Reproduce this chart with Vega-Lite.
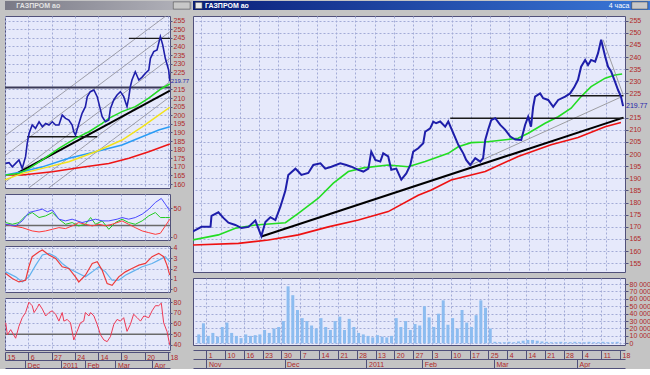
{
"$schema":"https://vega.github.io/schema/vega-lite/v6.json",
"background":"#c4c4c4",
"padding":{"left":3,"top":1,"right":0,"bottom":0},
"spacing":0,
"datasets":{
"rprice":[{"t":-0.47,"v":168},{"t":0,"v":170},{"t":0.47,"v":170},{"t":0.52,"v":174.5},{"t":0.88,"v":176},{"t":1.14,"v":173.7},{"t":1.4,"v":171.7},{"t":1.76,"v":170.8},{"t":2.08,"v":169.5},{"t":2.44,"v":170},{"t":2.8,"v":172.6},{"t":3.11,"v":166.2},{"t":3.32,"v":172},{"t":3.58,"v":174},{"t":3.84,"v":172.8},{"t":4.1,"v":178.3},{"t":4.36,"v":185},{"t":4.51,"v":191.4},{"t":4.88,"v":194},{"t":5.03,"v":192.8},{"t":5.19,"v":191.4},{"t":5.55,"v":192.2},{"t":5.81,"v":195.5},{"t":6.18,"v":196.2},{"t":6.43,"v":194},{"t":6.75,"v":194.8},{"t":7.21,"v":196.2},{"t":7.52,"v":195.5},{"t":7.78,"v":194.8},{"t":8.15,"v":193.5},{"t":8.41,"v":192.8},{"t":8.67,"v":194},{"t":8.82,"v":201},{"t":9.03,"v":197.6},{"t":9.29,"v":196.9},{"t":9.44,"v":200.3},{"t":9.7,"v":199},{"t":9.86,"v":193.5},{"t":10.12,"v":194},{"t":10.38,"v":189.5},{"t":10.64,"v":192},{"t":10.85,"v":195.5},{"t":11.0,"v":201},{"t":11.26,"v":202.4},{"t":11.52,"v":204.5},{"t":11.62,"v":209.2},{"t":11.88,"v":210.6},{"t":12.04,"v":213.4},{"t":12.19,"v":212.7},{"t":12.4,"v":213.4},{"t":12.66,"v":211.3},{"t":12.82,"v":213.4},{"t":13.08,"v":208.6},{"t":13.34,"v":203.8},{"t":13.6,"v":200.3},{"t":13.75,"v":197.6},{"t":13.96,"v":195.5},{"t":14.22,"v":198.3},{"t":14.48,"v":196.9},{"t":14.63,"v":198.3},{"t":14.74,"v":205.8},{"t":14.89,"v":210},{"t":15.05,"v":214},{"t":15.26,"v":214.8},{"t":15.52,"v":212},{"t":15.78,"v":210},{"t":16.04,"v":207.2},{"t":16.3,"v":206},{"t":16.61,"v":205.8},{"t":16.81,"v":212},{"t":16.97,"v":215.4},{"t":17.12,"v":211.3},{"t":17.23,"v":219.5},{"t":17.33,"v":223.7},{"t":17.59,"v":225},{"t":17.75,"v":223},{"t":18.01,"v":222.3},{"t":18.27,"v":219.5},{"t":18.53,"v":222.3},{"t":18.89,"v":223.7},{"t":19.15,"v":225},{"t":19.36,"v":227.5},{"t":19.56,"v":230.6},{"t":19.72,"v":236},{"t":19.93,"v":238.8},{"t":20.08,"v":236.7},{"t":20.24,"v":238.8},{"t":20.45,"v":238.1},{"t":20.6,"v":241.6},{"t":20.76,"v":247.1},{"t":20.97,"v":240.2},{"t":21.12,"v":236},{"t":21.28,"v":234},{"t":21.48,"v":229.9},{"t":21.64,"v":226.4},{"t":21.79,"v":223.7},{"t":21.9,"v":219.77}],
"rgreen":[{"t":-0.47,"v":164.6},{"t":0.88,"v":166.7},{"t":1.76,"v":169.4},{"t":2.8,"v":170.8},{"t":4.36,"v":171.7},{"t":5.03,"v":175.6},{"t":6.07,"v":181.8},{"t":6.85,"v":188},{"t":7.63,"v":192.8},{"t":8.41,"v":194.3},{"t":9.7,"v":195.5},{"t":10.74,"v":194.8},{"t":11.62,"v":196.9},{"t":12.82,"v":200.3},{"t":13.34,"v":203},{"t":14.01,"v":204.7},{"t":14.74,"v":205},{"t":16.45,"v":206.5},{"t":16.97,"v":208.6},{"t":17.85,"v":212.7},{"t":18.53,"v":215.4},{"t":19.2,"v":218.9},{"t":19.72,"v":223.7},{"t":20.24,"v":227.8},{"t":20.97,"v":231.3},{"t":21.48,"v":232.6},{"t":21.85,"v":233}],
"rred":[{"t":-0.47,"v":162.5},{"t":1.92,"v":163.2},{"t":3.48,"v":164.6},{"t":5.03,"v":166.7},{"t":6.59,"v":170},{"t":8.15,"v":172.8},{"t":9.7,"v":176.3},{"t":11.26,"v":183},{"t":11.94,"v":185.2},{"t":12.97,"v":189.3},{"t":14.74,"v":192.8},{"t":16.45,"v":199},{"t":18.16,"v":203.8},{"t":19.56,"v":206.8},{"t":20.97,"v":211.3},{"t":21.79,"v":213}],
"rseg":[{"t1":3.11,"v1":166,"t2":21.92,"v2":215,"k":"trend"},{"t1":12.92,"v1":214.8,"t2":21.92,"v2":214.8,"k":"level"},{"t1":19.15,"v1":224,"t2":21.92,"v2":224,"k":"level"},{"t1":14.0,"v1":195.5,"t2":21.85,"v2":223.7,"k":"guide"},{"t1":20.86,"v1":247.1,"t2":21.9,"v2":224.5,"k":"guide"}],
"rvol":[{"t":-0.4,"m":12},{"t":-0.15,"m":27},{"t":0.1,"m":10},{"t":0.35,"m":14},{"t":0.6,"m":9},{"t":0.85,"m":22},{"t":1.1,"m":28},{"t":1.35,"m":14},{"t":1.6,"m":10},{"t":1.85,"m":7},{"t":2.1,"m":12},{"t":2.35,"m":10},{"t":2.6,"m":11},{"t":2.85,"m":12},{"t":3.1,"m":18},{"t":3.35,"m":14},{"t":3.6,"m":20},{"t":3.85,"m":22},{"t":4.1,"m":30},{"t":4.35,"m":77},{"t":4.6,"m":65},{"t":4.85,"m":45},{"t":5.1,"m":34},{"t":5.35,"m":30},{"t":5.6,"m":24},{"t":5.85,"m":20},{"t":6.1,"m":34},{"t":6.35,"m":22},{"t":6.6,"m":18},{"t":6.85,"m":30},{"t":7.1,"m":36},{"t":7.35,"m":18},{"t":7.6,"m":33},{"t":7.85,"m":22},{"t":8.1,"m":14},{"t":8.35,"m":12},{"t":8.6,"m":10},{"t":8.85,"m":8},{"t":9.1,"m":11},{"t":9.35,"m":9},{"t":9.6,"m":8},{"t":9.85,"m":10},{"t":10.1,"m":34},{"t":10.35,"m":22},{"t":10.6,"m":30},{"t":10.85,"m":18},{"t":11.1,"m":26},{"t":11.35,"m":24},{"t":11.6,"m":50},{"t":11.85,"m":35},{"t":12.1,"m":22},{"t":12.35,"m":40},{"t":12.6,"m":58},{"t":12.85,"m":25},{"t":13.1,"m":34},{"t":13.35,"m":20},{"t":13.6,"m":45},{"t":13.85,"m":28},{"t":14.1,"m":22},{"t":14.35,"m":38},{"t":14.6,"m":58},{"t":14.85,"m":48},{"t":15.1,"m":20},{"t":15.35,"m":2},{"t":15.6,"m":1.5},{"t":15.85,"m":1.5},{"t":16.1,"m":2},{"t":16.35,"m":1.5},{"t":16.6,"m":2.5},{"t":16.85,"m":3.5},{"t":17.1,"m":4.5},{"t":17.35,"m":4.5},{"t":17.6,"m":3.5},{"t":17.85,"m":2.5},{"t":18.1,"m":2},{"t":18.35,"m":1.5},{"t":18.6,"m":1.5},{"t":18.85,"m":2},{"t":19.1,"m":1.5},{"t":19.35,"m":1.5},{"t":19.6,"m":2},{"t":19.85,"m":1.5},{"t":20.1,"m":1.5},{"t":20.35,"m":2},{"t":20.6,"m":1.5},{"t":20.85,"m":1.5},{"t":21.1,"m":2},{"t":21.35,"m":1.5},{"t":21.6,"m":1.5},{"t":21.85,"m":2}],
"lprice":[{"u":-0.07,"v":172},{"u":0.07,"v":172.4},{"u":0.21,"v":170},{"u":0.35,"v":172},{"u":0.49,"v":174},{"u":0.63,"v":169.1},{"u":0.77,"v":175.9},{"u":0.84,"v":183.7},{"u":0.92,"v":189.5},{"u":1.05,"v":194.3},{"u":1.19,"v":192.4},{"u":1.34,"v":196.2},{"u":1.48,"v":193.3},{"u":1.62,"v":195.2},{"u":1.76,"v":194.3},{"u":1.9,"v":196.2},{"u":2.04,"v":194.3},{"u":2.18,"v":194.3},{"u":2.32,"v":200.1},{"u":2.46,"v":198.2},{"u":2.6,"v":197.2},{"u":2.74,"v":194.3},{"u":2.81,"v":190.4},{"u":2.88,"v":188.5},{"u":3.03,"v":195.3},{"u":3.16,"v":201.1},{"u":3.3,"v":205},{"u":3.38,"v":210.8},{"u":3.51,"v":213.7},{"u":3.66,"v":214.7},{"u":3.8,"v":210.8},{"u":3.94,"v":203},{"u":4.01,"v":199.2},{"u":4.15,"v":196.2},{"u":4.29,"v":197.2},{"u":4.36,"v":204},{"u":4.5,"v":208.9},{"u":4.64,"v":211.8},{"u":4.78,"v":213.7},{"u":4.92,"v":210.8},{"u":5.06,"v":205},{"u":5.14,"v":210.8},{"u":5.2,"v":216.6},{"u":5.27,"v":220.5},{"u":5.41,"v":225.3},{"u":5.56,"v":220.5},{"u":5.7,"v":222.2},{"u":5.84,"v":224.4},{"u":5.98,"v":226.3},{"u":6.05,"v":233.1},{"u":6.19,"v":237},{"u":6.33,"v":238},{"u":6.47,"v":245.7},{"u":6.57,"v":240.9},{"u":6.68,"v":233.1},{"u":6.82,"v":226.3},{"u":6.87,"v":219.77}],
"lma":[{"u":-0.1,"v":165.2,"s":"m200"},{"u":0.63,"v":165.2,"s":"m200"},{"u":1.9,"v":167.2,"s":"m200"},{"u":3.3,"v":170,"s":"m200"},{"u":4.29,"v":172,"s":"m200"},{"u":5.14,"v":175,"s":"m200"},{"u":5.98,"v":178.8,"s":"m200"},{"u":6.87,"v":183.3,"s":"m200"},
{"u":-0.1,"v":165.2,"s":"m100"},{"u":0.63,"v":167.2,"s":"m100"},{"u":1.48,"v":170,"s":"m100"},{"u":2.6,"v":175,"s":"m100"},{"u":3.73,"v":178.8,"s":"m100"},{"u":4.85,"v":182.7,"s":"m100"},{"u":5.7,"v":187.5,"s":"m100"},{"u":6.4,"v":191.4,"s":"m100"},{"u":6.87,"v":193.3,"s":"m100"},
{"u":-0.1,"v":162.5,"s":"m50"},{"u":0.63,"v":166.2,"s":"m50"},{"u":1.48,"v":169.1,"s":"m50"},{"u":2.6,"v":173,"s":"m50"},{"u":3.73,"v":178.8,"s":"m50"},{"u":4.85,"v":185.6,"s":"m50"},{"u":5.7,"v":193.3,"s":"m50"},{"u":6.4,"v":200.1,"s":"m50"},{"u":6.87,"v":204.6,"s":"m50"},
{"u":-0.07,"v":165.2,"s":"m20"},{"u":0.49,"v":166.2,"s":"m20"},{"u":0.92,"v":169.1,"s":"m20"},{"u":1.48,"v":174,"s":"m20"},{"u":2.18,"v":180.8,"s":"m20"},{"u":2.88,"v":186.6,"s":"m20"},{"u":3.45,"v":190.4,"s":"m20"},{"u":4.01,"v":195.3,"s":"m20"},{"u":4.29,"v":198.2,"s":"m20"},{"u":4.85,"v":202.1,"s":"m20"},{"u":5.41,"v":205,"s":"m20"},{"u":5.98,"v":209.9,"s":"m20"},{"u":6.54,"v":215.7,"s":"m20"},{"u":6.87,"v":218.2,"s":"m20"}],
"lseg":[{"u1":-0.1,"v1":188,"u2":6.878,"v2":259.5,"k":"chan"},{"u1":-0.1,"v1":176.5,"u2":6.878,"v2":248.6,"k":"chan"},{"u1":-0.1,"v1":161,"u2":6.878,"v2":233.1,"k":"chan"},{"u1":0.9,"v1":157.7,"u2":6.878,"v2":219.5,"k":"chan"},{"u1":1.745,"v1":157.7,"u2":6.878,"v2":210.8,"k":"chan"},{"u1":0.35,"v1":165.8,"u2":6.878,"v2":214.3,"k":"trend"},{"u1":5.14,"v1":244.7,"u2":6.878,"v2":244.7,"k":"level"},{"u1":0.84,"v1":187.5,"u2":3.8,"v2":187.5,"k":"level"}],
"lhline":[{"v":216.2}],
"li1":[{"u":-0.07,"v":22.3,"s":"b"},{"u":0.35,"v":19.4,"s":"b"},{"u":0.63,"v":28.2,"s":"b"},{"u":0.91,"v":42.9,"s":"b"},{"u":1.2,"v":45.9,"s":"b"},{"u":1.48,"v":48.8,"s":"b"},{"u":1.69,"v":44.1,"s":"b"},{"u":1.9,"v":47.6,"s":"b"},{"u":2.18,"v":31.2,"s":"b"},{"u":2.46,"v":28.2,"s":"b"},{"u":2.74,"v":31.2,"s":"b"},{"u":3.16,"v":25.3,"s":"b"},{"u":3.45,"v":28.2,"s":"b"},{"u":3.73,"v":31.2,"s":"b"},{"u":4.01,"v":28.2,"s":"b"},{"u":4.29,"v":28.2,"s":"b"},{"u":4.64,"v":31.2,"s":"b"},{"u":4.85,"v":34.1,"s":"b"},{"u":5.13,"v":31.2,"s":"b"},{"u":5.41,"v":34.1,"s":"b"},{"u":5.7,"v":40,"s":"b"},{"u":5.98,"v":48.8,"s":"b"},{"u":6.26,"v":60.6,"s":"b"},{"u":6.51,"v":67.6,"s":"b"},{"u":6.68,"v":57.6,"s":"b"},{"u":6.87,"v":45.9,"s":"b"},
{"u":-0.07,"v":22.3,"s":"r"},{"u":0.21,"v":19.4,"s":"r"},{"u":0.63,"v":16.4,"s":"r"},{"u":1.05,"v":10.6,"s":"r"},{"u":1.34,"v":8.8,"s":"r"},{"u":1.62,"v":10.6,"s":"r"},{"u":1.9,"v":13.5,"s":"r"},{"u":2.18,"v":16.4,"s":"r"},{"u":2.46,"v":14.7,"s":"r"},{"u":2.74,"v":19.4,"s":"r"},{"u":3.02,"v":25.3,"s":"r"},{"u":3.3,"v":22.3,"s":"r"},{"u":3.59,"v":19.4,"s":"r"},{"u":3.87,"v":22.3,"s":"r"},{"u":4.15,"v":19.4,"s":"r"},{"u":4.43,"v":22.3,"s":"r"},{"u":4.85,"v":28.2,"s":"r"},{"u":5.13,"v":22.3,"s":"r"},{"u":5.41,"v":16.4,"s":"r"},{"u":5.7,"v":10.6,"s":"r"},{"u":5.98,"v":7.6,"s":"r"},{"u":6.26,"v":4.7,"s":"r"},{"u":6.47,"v":6.5,"s":"r"},{"u":6.68,"v":19.4,"s":"r"},{"u":6.87,"v":31.2,"s":"r"},
{"u":-0.07,"v":25.3,"s":"g"},{"u":0.21,"v":22.3,"s":"g"},{"u":0.49,"v":25.3,"s":"g"},{"u":0.77,"v":37,"s":"g"},{"u":1.05,"v":42.9,"s":"g"},{"u":1.34,"v":34.1,"s":"g"},{"u":1.62,"v":37,"s":"g"},{"u":1.9,"v":42.9,"s":"g"},{"u":2.18,"v":31.2,"s":"g"},{"u":2.46,"v":22.3,"s":"g"},{"u":2.74,"v":25.3,"s":"g"},{"u":3.02,"v":19.4,"s":"g"},{"u":3.3,"v":22.3,"s":"g"},{"u":3.52,"v":34.1,"s":"g"},{"u":3.73,"v":22.3,"s":"g"},{"u":4.01,"v":28.2,"s":"g"},{"u":4.29,"v":13.5,"s":"g"},{"u":4.57,"v":25.3,"s":"g"},{"u":4.85,"v":31.2,"s":"g"},{"u":5.13,"v":25.3,"s":"g"},{"u":5.41,"v":22.3,"s":"g"},{"u":5.7,"v":28.2,"s":"g"},{"u":5.98,"v":37,"s":"g"},{"u":6.26,"v":42.9,"s":"g"},{"u":6.47,"v":34.1,"s":"g"},{"u":6.68,"v":34.1,"s":"g"},{"u":6.87,"v":34.1,"s":"g"}],
"li2":[{"u":-0.07,"v":1.52,"s":"r"},{"u":0.21,"v":1.04,"s":"r"},{"u":0.49,"v":0.71,"s":"r"},{"u":0.77,"v":0.87,"s":"r"},{"u":0.91,"v":2.17,"s":"r"},{"u":1.05,"v":3.14,"s":"r"},{"u":1.34,"v":3.62,"s":"r"},{"u":1.48,"v":3.79,"s":"r"},{"u":1.76,"v":3.3,"s":"r"},{"u":2.04,"v":2.98,"s":"r"},{"u":2.32,"v":2.17,"s":"r"},{"u":2.6,"v":2.01,"s":"r"},{"u":2.88,"v":1.2,"s":"r"},{"u":3.02,"v":0.71,"s":"r"},{"u":3.3,"v":1.36,"s":"r"},{"u":3.59,"v":2.49,"s":"r"},{"u":3.8,"v":2.65,"s":"r"},{"u":4.01,"v":1.84,"s":"r"},{"u":4.22,"v":0.55,"s":"r"},{"u":4.43,"v":0.39,"s":"r"},{"u":4.71,"v":1.2,"s":"r"},{"u":4.99,"v":1.68,"s":"r"},{"u":5.27,"v":2.01,"s":"r"},{"u":5.56,"v":2.33,"s":"r"},{"u":5.84,"v":2.49,"s":"r"},{"u":6.12,"v":3.14,"s":"r"},{"u":6.4,"v":3.46,"s":"r"},{"u":6.61,"v":3.14,"s":"r"},{"u":6.75,"v":2.33,"s":"r"},{"u":6.87,"v":1.36,"s":"r"},
{"u":-0.07,"v":1.68,"s":"b"},{"u":0.35,"v":1.2,"s":"b"},{"u":0.63,"v":0.71,"s":"b"},{"u":0.91,"v":1.2,"s":"b"},{"u":1.2,"v":2.33,"s":"b"},{"u":1.48,"v":3.3,"s":"b"},{"u":1.76,"v":3.46,"s":"b"},{"u":2.04,"v":3.14,"s":"b"},{"u":2.32,"v":2.49,"s":"b"},{"u":2.6,"v":2.01,"s":"b"},{"u":3.02,"v":1.52,"s":"b"},{"u":3.3,"v":1.2,"s":"b"},{"u":3.59,"v":1.68,"s":"b"},{"u":3.87,"v":2.17,"s":"b"},{"u":4.15,"v":1.68,"s":"b"},{"u":4.43,"v":0.87,"s":"b"},{"u":4.71,"v":0.87,"s":"b"},{"u":4.99,"v":1.36,"s":"b"},{"u":5.27,"v":1.68,"s":"b"},{"u":5.7,"v":2.17,"s":"b"},{"u":6.12,"v":2.49,"s":"b"},{"u":6.4,"v":2.81,"s":"b"},{"u":6.68,"v":3.14,"s":"b"},{"u":6.87,"v":2.65,"s":"b"}],
"li3":[{"u":-0.07,"v":60.6},{"u":0,"v":49.4},{"u":0.14,"v":54.2},{"u":0.35,"v":46.2},{"u":0.49,"v":57.4},{"u":0.63,"v":65.4},{"u":0.77,"v":70.2},{"u":0.91,"v":79.8},{"u":1.05,"v":76.6},{"u":1.13,"v":70.2},{"u":1.27,"v":75},{"u":1.34,"v":78.2},{"u":1.48,"v":73.4},{"u":1.62,"v":67},{"u":1.76,"v":70.2},{"u":1.9,"v":71.8},{"u":2.04,"v":68.6},{"u":2.18,"v":62.2},{"u":2.32,"v":70.2},{"u":2.39,"v":62.2},{"u":2.53,"v":63.8},{"u":2.67,"v":60.6},{"u":2.81,"v":44.6},{"u":2.95,"v":52.6},{"u":3.09,"v":60.6},{"u":3.23,"v":62.2},{"u":3.3,"v":70.2},{"u":3.45,"v":67},{"u":3.52,"v":70.2},{"u":3.66,"v":67},{"u":3.8,"v":59},{"u":3.94,"v":49.4},{"u":4.08,"v":44.6},{"u":4.22,"v":43},{"u":4.36,"v":47.8},{"u":4.5,"v":59},{"u":4.64,"v":63.8},{"u":4.78,"v":62.2},{"u":4.92,"v":65.4},{"u":5.06,"v":52.6},{"u":5.2,"v":59},{"u":5.34,"v":68.6},{"u":5.49,"v":65.4},{"u":5.63,"v":62.2},{"u":5.77,"v":67},{"u":5.98,"v":65.4},{"u":6.12,"v":71.8},{"u":6.26,"v":76.6},{"u":6.4,"v":76.6},{"u":6.51,"v":79},{"u":6.61,"v":60.6},{"u":6.75,"v":52.6},{"u":6.87,"v":39.8}]
},
"hconcat":[
{"spacing":6,"bounds":"flush","vconcat":[
 {"width":187,"height":9,"data":{"values":[{}]},"view":{"stroke":null,"fill":null},
  "layer":[
   {"mark":{"type":"rect","color":{"gradient":"linear","x1":0,"x2":1,"y1":0,"y2":0,"stops":[{"offset":0,"color":"#7a7a86"},{"offset":1,"color":"#b4b4bc"}]}},"encoding":{"x":{"datum":0,"type":"quantitative","scale":{"domain":[0,1],"nice":false,"zero":false},"axis":null},"x2":{"datum":1},"y":{"datum":0,"type":"quantitative","scale":{"domain":[0,1],"nice":false,"zero":false},"axis":null},"y2":{"datum":1}}},
   {"mark":{"type":"text","text":"ГАЗПРОМ ао","align":"left","baseline":"middle","color":"#e2e2e2","fontSize":7,"fontWeight":"bold","font":"Liberation Sans"},"encoding":{"x":{"datum":0.06,"type":"quantitative"},"y":{"datum":0.5,"type":"quantitative"}}},
   {"mark":{"type":"rect","color":"#c8c8c8","stroke":"#404040","strokeWidth":0.5},"encoding":{"x":{"datum":0.9,"type":"quantitative"},"x2":{"datum":0.99},"y":{"datum":0.1,"type":"quantitative"},"y2":{"datum":0.9}}}
  ]},
  {"width":165,"height":172,
   "layer":[
    {"data":{"name":"lseg"},"transform":[{"filter":"datum.k == 'chan'"}],"mark":{"type":"rule","color":"#8c8c96","strokeWidth":0.8,"clip":true},
     "encoding":{"x":{"field":"u1","type":"quantitative","scale":{"domain":[-0.1,6.878],"nice":false,"zero":false},"axis":{"title":null,"values":[-0.097,0.887,1.871,2.855,3.839,4.823,5.807,6.791],"tickCount":200,"labels":false,"ticks":false,"domain":false,"grid":true}},
      "x2":{"field":"u2"},
      "y":{"field":"v1","type":"quantitative","scale":{"domain":[157.7,257.7],"nice":false,"zero":false},"axis":{"title":null,"orient":"right","values":[160,165,170,175,180,185,190,195,200,205,210,215,225,230,235,240,245,250,255],"tickCount":200,"format":"d","tickSize":2,"labelPadding":1,"labelOverlap":false,"domain":false,"grid":true}},
      "y2":{"field":"v2"}}},
    {"data":{"name":"lseg"},"transform":[{"filter":"datum.k == 'trend'"}],"mark":{"type":"rule","color":"#000000","strokeWidth":2,"clip":true},"encoding":{"x":{"field":"u1","type":"quantitative"},"x2":{"field":"u2"},"y":{"field":"v1","type":"quantitative"},"y2":{"field":"v2"}}},
    {"data":{"name":"lseg"},"transform":[{"filter":"datum.k == 'level'"}],"mark":{"type":"rule","color":"#1a1a1a","strokeWidth":1.3,"clip":true},"encoding":{"x":{"field":"u1","type":"quantitative"},"x2":{"field":"u2"},"y":{"field":"v1","type":"quantitative"},"y2":{"field":"v2"}}},
    {"data":{"name":"lhline"},"mark":{"type":"rule","color":"#3a3a58","strokeWidth":2},"encoding":{"y":{"field":"v","type":"quantitative"}}},
    {"data":{"name":"lma"},"transform":[{"filter":"datum.s == 'm200'"}],"mark":{"type":"line","color":"#ee1515","strokeWidth":1.5,"clip":true},"encoding":{"x":{"field":"u","type":"quantitative"},"y":{"field":"v","type":"quantitative"}}},
    {"data":{"name":"lma"},"transform":[{"filter":"datum.s == 'm100'"}],"mark":{"type":"line","color":"#2a9cf5","strokeWidth":1.5,"clip":true},"encoding":{"x":{"field":"u","type":"quantitative"},"y":{"field":"v","type":"quantitative"}}},
    {"data":{"name":"lma"},"transform":[{"filter":"datum.s == 'm50'"}],"mark":{"type":"line","color":"#f2e21c","strokeWidth":1.5,"clip":true},"encoding":{"x":{"field":"u","type":"quantitative"},"y":{"field":"v","type":"quantitative"}}},
    {"data":{"name":"lma"},"transform":[{"filter":"datum.s == 'm20'"}],"mark":{"type":"line","color":"#22dd22","strokeWidth":1.5,"clip":true},"encoding":{"x":{"field":"u","type":"quantitative"},"y":{"field":"v","type":"quantitative"}}},
    {"data":{"name":"lprice"},"mark":{"type":"line","color":"#1e1eaa","strokeWidth":1.6,"clip":true},"encoding":{"x":{"field":"u","type":"quantitative"},"y":{"field":"v","type":"quantitative"}}},
    {"data":{"name":"lprice"},"transform":[{"filter":"datum.u > 6.85"}],"mark":{"type":"text","align":"left","baseline":"middle","dx":1,"fontSize":6,"color":"#1e1eaa","font":"Liberation Sans"},"encoding":{"x":{"field":"u","type":"quantitative"},"y":{"field":"v","type":"quantitative"},"text":{"field":"v","format":".2f"}}}
   ]},
  {"width":165,"height":46,
   "layer":[
    {"data":{"values":[{"v":20}]},"mark":{"type":"rule","color":"#6a6a6a","strokeWidth":1.5},"encoding":{"y":{"field":"v","type":"quantitative","scale":{"domain":[-5.3,75.4],"nice":false,"zero":false},"axis":{"title":null,"orient":"right","values":[0,50],"tickCount":200,"format":"d","tickSize":2,"labelPadding":1,"labelOverlap":false,"domain":false,"grid":true}}}},
    {"data":{"name":"li1"},"transform":[{"filter":"datum.s == 'g'"}],"mark":{"type":"line","color":"#22cc22","strokeWidth":1,"clip":true},
     "encoding":{"x":{"field":"u","type":"quantitative","scale":{"domain":[-0.1,6.878],"nice":false,"zero":false},"axis":{"title":null,"values":[-0.097,0.887,1.871,2.855,3.839,4.823,5.807,6.791],"tickCount":200,"labels":false,"ticks":false,"domain":false,"grid":true}},"y":{"field":"v","type":"quantitative"}}},
    {"data":{"name":"li1"},"transform":[{"filter":"datum.s == 'r'"}],"mark":{"type":"line","color":"#ff3a3a","strokeWidth":1,"clip":true},"encoding":{"x":{"field":"u","type":"quantitative"},"y":{"field":"v","type":"quantitative"}}},
    {"data":{"name":"li1"},"transform":[{"filter":"datum.s == 'b'"}],"mark":{"type":"line","color":"#4a4aff","strokeWidth":1,"clip":true},"encoding":{"x":{"field":"u","type":"quantitative"},"y":{"field":"v","type":"quantitative"}}}
   ]},
  {"width":165,"height":46,
   "layer":[
    {"data":{"name":"li2"},"transform":[{"filter":"datum.s == 'b'"}],"mark":{"type":"line","color":"#62b2ee","strokeWidth":1.2,"clip":true},
     "encoding":{"x":{"field":"u","type":"quantitative","scale":{"domain":[-0.1,6.878],"nice":false,"zero":false},"axis":{"title":null,"values":[-0.097,0.887,1.871,2.855,3.839,4.823,5.807,6.791],"tickCount":200,"labels":false,"ticks":false,"domain":false,"grid":true}},
      "y":{"field":"v","type":"quantitative","scale":{"domain":[-0.26,4.17],"nice":false,"zero":false},"axis":{"title":null,"orient":"right","values":[0,1,2,3,4],"tickCount":200,"format":"d","tickSize":2,"labelPadding":1,"labelOverlap":false,"domain":false,"grid":true}}}},
    {"data":{"name":"li2"},"transform":[{"filter":"datum.s == 'r'"}],"mark":{"type":"line","color":"#ee3a3a","strokeWidth":1.2,"clip":true},"encoding":{"x":{"field":"u","type":"quantitative"},"y":{"field":"v","type":"quantitative"}}}
   ]},
  {"width":165,"height":52,
   "resolve":{"axis":{"x":"independent"}},
   "layer":[
    {"data":{"values":[{"v":50}]},"mark":{"type":"rule","color":"#6a6a6a","strokeWidth":1.5},"encoding":{"y":{"field":"v","type":"quantitative","scale":{"domain":[35.2,83.8],"nice":false,"zero":false},"axis":{"title":null,"orient":"right","values":[40,50,60,70,80],"tickCount":200,"format":"d","tickSize":2,"labelPadding":1,"labelOverlap":false,"domain":false,"grid":true}}}},
    {"data":{"name":"li3"},"mark":{"type":"line","color":"#ee3a55","strokeWidth":1,"clip":true},
     "encoding":{"x":{"field":"u","type":"quantitative","scale":{"domain":[-0.1,6.878],"nice":false,"zero":false},"axis":{"title":null,"orient":"bottom","values":[-0.097,0.887,1.871,2.855,3.839,4.823,5.807,6.791],"tickCount":200,"labelExpr":"['15','6','27','24','14','9','20','18'][round((datum.value+0.097)/0.984)]","offset":2,"tickSize":8,"labelAlign":"left","labelBaseline":"top","labelPadding":-7,"labelOffset":2,"labelOverlap":false,"domain":true,"grid":true}},
      "y":{"field":"v","type":"quantitative"}}},
    {"data":{"name":"li3"},"mark":{"type":"point","opacity":0,"size":1},"encoding":{"x":{"field":"u","type":"quantitative","axis":{"title":null,"orient":"bottom","values":[0.75,2.25,3.28,4.57,6.12],"tickCount":200,"labelExpr":"datum.value < 1 ? 'Dec' : datum.value < 3 ? '2011' : datum.value < 4 ? 'Feb' : datum.value < 5 ? 'Mar' : 'Apr'","offset":10,"tickSize":8,"labelAlign":"left","labelBaseline":"top","labelPadding":-7,"labelOffset":2,"labelOverlap":false,"domain":true,"grid":false}},"y":{"datum":50,"type":"quantitative"}}},
    {"data":{"name":"li3"},"mark":{"type":"point","opacity":0,"size":1},"encoding":{"x":{"field":"u","type":"quantitative","axis":{"title":null,"orient":"bottom","values":[],"labels":false,"ticks":false,"offset":18,"domain":true,"grid":false}},"y":{"datum":50,"type":"quantitative"}}}
   ]}
]},
{"spacing":6,"bounds":"flush","vconcat":[
 {"width":457,"height":9,"data":{"values":[{}]},"view":{"stroke":null,"fill":null},
  "layer":[
   {"mark":{"type":"rect","color":{"gradient":"linear","x1":0,"x2":1,"y1":0,"y2":0,"stops":[{"offset":0,"color":"#0a1e78"},{"offset":1,"color":"#3a78d8"}]}},"encoding":{"x":{"datum":0,"type":"quantitative","scale":{"domain":[0,1],"nice":false,"zero":false},"axis":null},"x2":{"datum":1},"y":{"datum":0,"type":"quantitative","scale":{"domain":[0,1],"nice":false,"zero":false},"axis":null},"y2":{"datum":1}}},
   {"mark":{"type":"rect","color":"#e8e8e8","stroke":"#303030","strokeWidth":0.5},"encoding":{"x":{"datum":0.005,"type":"quantitative"},"x2":{"datum":0.02},"y":{"datum":0.15,"type":"quantitative"},"y2":{"datum":0.85}}},
   {"mark":{"type":"text","text":"ГАЗПРОМ ао","align":"left","baseline":"middle","color":"#ffffff","fontSize":7,"fontWeight":"bold","font":"Liberation Sans"},"encoding":{"x":{"datum":0.026,"type":"quantitative"},"y":{"datum":0.5,"type":"quantitative"}}},
   {"mark":{"type":"text","text":"4 часа","align":"right","baseline":"middle","color":"#ffffff","fontSize":7,"font":"Liberation Sans"},"encoding":{"x":{"datum":0.955,"type":"quantitative"},"y":{"datum":0.5,"type":"quantitative"}}},
   {"mark":{"type":"rect","color":"#c8c8c8","stroke":"#303030","strokeWidth":0.5},"encoding":{"x":{"datum":0.96,"type":"quantitative"},"x2":{"datum":0.995},"y":{"datum":0.1,"type":"quantitative"},"y2":{"datum":0.9}}}
  ]},
  {"width":432,"height":256,
   "layer":[
    {"data":{"name":"rred"},"mark":{"type":"line","color":"#ee1111","strokeWidth":1.6,"clip":true},
     "encoding":{"x":{"field":"t","type":"quantitative","scale":{"domain":[-0.44,22],"nice":false,"zero":false},"axis":{"title":null,"values":[0,1,2,3,4,5,6,7,8,9,10,11,12,13,14,15,16,17,18,19,20,21],"tickCount":200,"labels":false,"ticks":false,"domain":false,"grid":true}},
      "y":{"field":"v","type":"quantitative","scale":{"domain":[151.4,256.9],"nice":false,"zero":false},"axis":{"title":null,"orient":"right","values":[155,160,165,170,175,180,185,190,195,200,205,210,215,225,230,235,240,245,250,255],"tickCount":200,"format":"d","tickSize":3,"labelPadding":1,"labelOverlap":false,"domain":false,"grid":true}}}},
    {"data":{"name":"rgreen"},"mark":{"type":"line","color":"#22dd22","strokeWidth":1.6,"clip":true},"encoding":{"x":{"field":"t","type":"quantitative"},"y":{"field":"v","type":"quantitative"}}},
    {"data":{"name":"rseg"},"transform":[{"filter":"datum.k == 'guide'"}],"mark":{"type":"rule","color":"#8a8a8a","strokeWidth":0.8,"clip":true},"encoding":{"x":{"field":"t1","type":"quantitative"},"x2":{"field":"t2"},"y":{"field":"v1","type":"quantitative"},"y2":{"field":"v2"}}},
    {"data":{"name":"rseg"},"transform":[{"filter":"datum.k == 'trend'"}],"mark":{"type":"rule","color":"#000000","strokeWidth":2,"clip":true},"encoding":{"x":{"field":"t1","type":"quantitative"},"x2":{"field":"t2"},"y":{"field":"v1","type":"quantitative"},"y2":{"field":"v2"}}},
    {"data":{"name":"rseg"},"transform":[{"filter":"datum.k == 'level'"}],"mark":{"type":"rule","color":"#1a1a1a","strokeWidth":1.5,"clip":true},"encoding":{"x":{"field":"t1","type":"quantitative"},"x2":{"field":"t2"},"y":{"field":"v1","type":"quantitative"},"y2":{"field":"v2"}}},
    {"data":{"name":"rprice"},"mark":{"type":"line","color":"#1e1eaa","strokeWidth":2,"clip":true},"encoding":{"x":{"field":"t","type":"quantitative"},"y":{"field":"v","type":"quantitative"}}},
    {"data":{"name":"rprice"},"transform":[{"filter":"datum.t > 21.8"}],"mark":{"type":"text","align":"left","baseline":"middle","dx":3,"fontSize":7,"color":"#1e1eaa","font":"Liberation Sans"},"encoding":{"x":{"field":"t","type":"quantitative"},"y":{"field":"v","type":"quantitative"},"text":{"field":"v","format":".2f"}}}
   ]},
  {"width":432,"height":67,
   "resolve":{"axis":{"x":"independent"}},
   "layer":[
    {"data":{"name":"rvol"},"mark":{"type":"bar","color":"#8cbcf0","size":3,"clip":true},
     "encoding":{"x":{"field":"t","type":"quantitative","scale":{"domain":[-0.44,22],"nice":false,"zero":false},"axis":{"title":null,"orient":"bottom","values":[0,1,2,3,4,5,6,7,8,9,10,11,12,13,14,15,16,17,18,19,20,21,22],"tickCount":200,"labelExpr":"['1','10','16','23','30','7','14','21','28','13','20','27','3','10','17','25','4','14','21','28','4','11','18'][datum.value]","offset":5,"tickSize":9,"labelAlign":"left","labelBaseline":"top","labelPadding":-8,"labelOffset":2,"labelOverlap":false,"domain":true,"grid":true}},
      "y":{"field":"m","type":"quantitative","scale":{"domain":[-2.3,88.2],"nice":false},"axis":{"title":null,"orient":"right","values":[0,10,20,30,40,50,60,70,80],"tickCount":200,"labelExpr":"datum.value == 0 ? '0' : datum.value + ' 000 000'","tickSize":3,"labelPadding":1,"labelOverlap":false,"domain":false,"grid":true}}}},
    {"data":{"name":"rvol"},"mark":{"type":"point","opacity":0,"size":1},"encoding":{"x":{"field":"t","type":"quantitative","axis":{"title":null,"orient":"bottom","values":[0.01,4.16,8.52,11.49,15.3,19.72],"tickCount":200,"labelExpr":"datum.value < 1 ? 'Nov' : datum.value < 6 ? 'Dec' : datum.value < 10 ? '2011' : datum.value < 13 ? 'Feb' : datum.value < 17 ? 'Mar' : 'Apr'","offset":14,"tickSize":9,"labelAlign":"left","labelBaseline":"top","labelPadding":-8,"labelOffset":2,"labelOverlap":false,"domain":true,"grid":false}},"y":{"datum":0,"type":"quantitative"}}},
    {"data":{"name":"rvol"},"mark":{"type":"point","opacity":0,"size":1},"encoding":{"x":{"field":"t","type":"quantitative","axis":{"title":null,"orient":"bottom","values":[],"labels":false,"ticks":false,"offset":23,"domain":true,"grid":false}},"y":{"datum":0,"type":"quantitative"}}}
   ]}
]}
],
"config":{
 "view":{"fill":"#e6e9fb","stroke":"#50507a","strokeWidth":1},
 "axis":{"labelFont":"Liberation Sans","labelFontSize":7,"labelColor":"#b02828","tickColor":"#50507a","domainColor":"#50507a","gridColor":"#a3abd6","gridDash":[2,2],"gridOpacity":1,"labelOverlap":false,"labelFlush":false}
}
}
